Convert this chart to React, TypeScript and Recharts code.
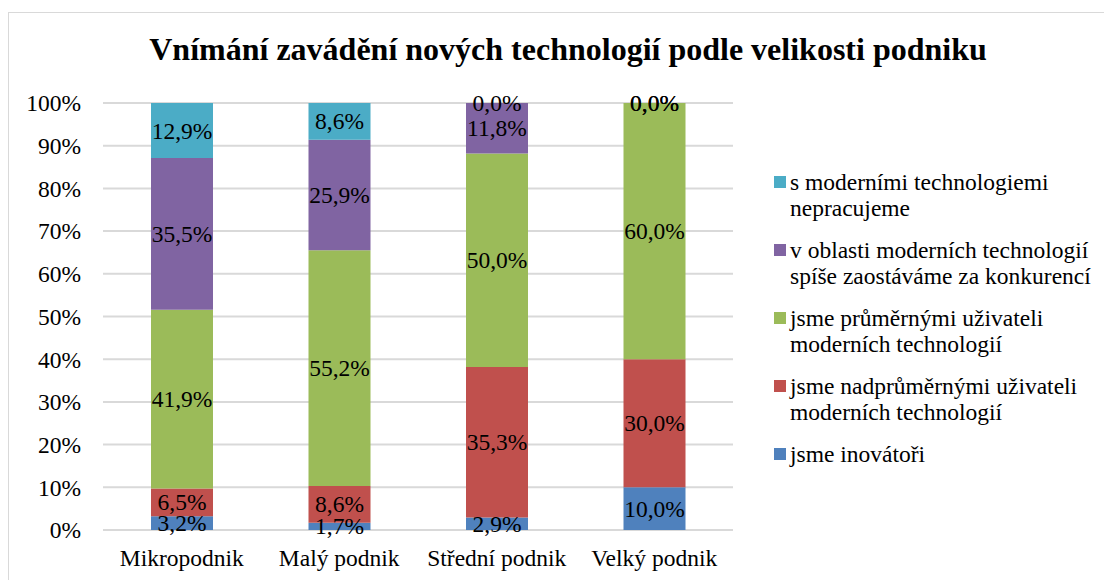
import { BarChart, Bar, XAxis, YAxis, CartesianGrid, LabelList } from "recharts";

const categories = ["Mikropodnik", "Malý podnik", "Střední podnik", "Velký podnik"];

const inovatori = [3.2, 1.7, 2.9, 10.0];
const nadprumerni = [6.5, 8.6, 35.3, 30.0];
const prumerni = [41.9, 55.2, 50.0, 60.0];
const zaostavame = [35.5, 25.9, 11.8, 0.0];
const nepracujeme = [12.9, 8.6, 0.0, 0.0];

const yTicks = [0, 10, 20, 30, 40, 50, 60, 70, 80, 90, 100];

const series = [
  { key: "inovatori", name: "jsme inovátoři", color: "#4F81BD", values: inovatori },
  {
    key: "nadprumerni",
    name: "jsme nadprůměrnými uživateli\nmoderních technologií",
    color: "#C0504D",
    values: nadprumerni,
  },
  {
    key: "prumerni",
    name: "jsme průměrnými uživateli\nmoderních technologií",
    color: "#9BBB59",
    values: prumerni,
  },
  {
    key: "zaostavame",
    name: "v oblasti moderních technologií\nspíše zaostáváme za konkurencí",
    color: "#8064A2",
    values: zaostavame,
  },
  {
    key: "nepracujeme",
    name: "s moderními technologiemi\nnepracujeme",
    color: "#4BACC6",
    values: nepracujeme,
  },
];

const data = categories.map((cat, i) => {
  const row: Record<string, string | number> = { name: cat };
  series.forEach((s) => {
    row[s.key] = s.values[i];
  });
  return row;
});

const font = "Liberation Serif";
const fs = 23.5;

const fmt = (v: any) => `${Number(v).toFixed(1).replace(".", ",")}%`;

// label for each segment, drawn also when the segment is 0
const SegLabel = (props: any) => {
  const { x, y, width, height, value } = props;
  return (
    <text
      x={x + width / 2}
      y={y + height / 2}
      textAnchor="middle"
      dominantBaseline="central"
      fontSize={fs}
      fontFamily={font}
      fill="#000"
    >
      {fmt(value)}
    </text>
  );
};

const LegendBox = () => (
  <div style={{ fontFamily: font, fontSize: fs, color: "#000" }}>
    {[...series].reverse().map((s) => (
      <div
        key={s.key}
        style={{ display: "flex", alignItems: "flex-start", marginBottom: 16 }}
      >
        <div
          style={{
            width: 12,
            height: 12,
            background: s.color,
            marginTop: 7,
            marginRight: 4,
            flexShrink: 0,
          }}
        />
        <div style={{ whiteSpace: "pre", lineHeight: "26px" }}>{s.name}</div>
      </div>
    ))}
  </div>
);

export default function App() {
  return (
    <div
      style={{
        position: "relative",
        marginTop: 4,
        width: 1103,
        height: 575,
        borderTop: "1px solid #d9d9d9",
        borderLeft: "1px solid #d9d9d9",
        fontFamily: font,
      }}
    >
      <div
        style={{
          position: "absolute",
          left: 0,
          width: 1118,
          top: 18,
          textAlign: "center",
          fontSize: 32,
          fontWeight: "bold",
          fontFamily: font,
          whiteSpace: "nowrap",
        }}
      >
        Vnímání zavádění nových technologií podle velikosti podniku
      </div>
      <div style={{ position: "absolute", left: 765, top: 156 }}>
        <LegendBox />
      </div>
      <BarChart
        width={1095}
        height={565}
        data={data}
        margin={{ top: 90, right: 371, bottom: 18, left: 0 }}
        barSize={62}
      >
        <CartesianGrid vertical={false} stroke="#d9d9d9" strokeWidth={2} />
        <XAxis
          dataKey="name"
          axisLine={false}
          tickLine={false}
          tickSize={0}
          tickMargin={19}
          height={30}
          tick={{ fontSize: fs, fill: "#000", fontFamily: font }}
        />
        <YAxis
          domain={[0, 100]}
          ticks={yTicks}
          axisLine={false}
          tickLine={false}
          tickSize={0}
          tickMargin={22}
          width={94}
          tickFormatter={(v) => `${v}%`}
          tick={{ fontSize: fs, fill: "#000", fontFamily: font }}
        />
        {series.map((s) => (
          <Bar
            key={s.key}
            dataKey={s.key}
            name={s.name}
            stackId="a"
            fill={s.color}
            minPointSize={0.01}
            isAnimationActive={false}
          >
            <LabelList dataKey={s.key} content={SegLabel} />
          </Bar>
        ))}
      </BarChart>
    </div>
  );
}
